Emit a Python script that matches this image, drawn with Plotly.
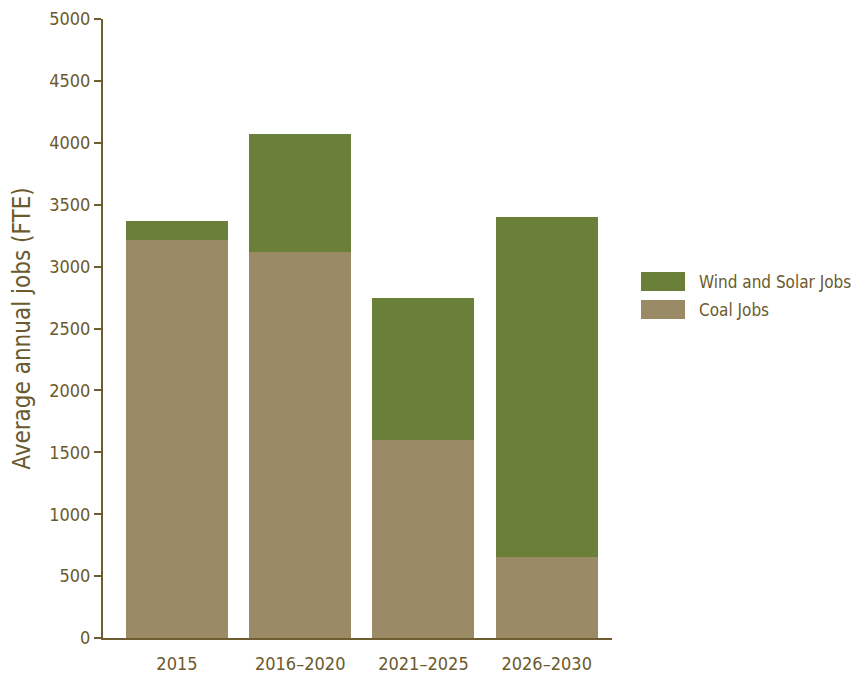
import plotly.graph_objects as go

periods = ["2015", "2016–2020", "2021–2025", "2026–2030"]
coal_jobs = [3215, 3120, 1600, 655]
wind_solar_jobs = [155, 950, 1145, 2745]

legend_labels = ["Wind and Solar Jobs", "Coal Jobs"]

text_color = "#6b5a2e"
axis_color = "#6e5d30"
coal_color = "#9b8a66"
green_color = "#6a7f37"
font_family = "Liberation Sans Narrow, DejaVu Sans Condensed, Arial Narrow, sans-serif"

fig = go.Figure()
fig.add_trace(go.Bar(x=periods, y=coal_jobs, name=legend_labels[1],
                     marker=dict(color=coal_color, line=dict(width=0)),
                     showlegend=False))
fig.add_trace(go.Bar(x=periods, y=wind_solar_jobs, name=legend_labels[0],
                     marker=dict(color=green_color, line=dict(width=0)),
                     showlegend=False))

# Legend block to the right of the plot: large swatches with labels
plot_l, plot_r, plot_t, plot_b = 103, 612, 19, 638
W, H = 854, 677


def px_x(x):
    return (x - plot_l) / (plot_r - plot_l)


def px_y(y):
    return (plot_b - y) / (plot_b - plot_t)


swatch_rows = [(272, 291, green_color), (300, 319, coal_color)]
for (y0, y1, col), label in zip(swatch_rows, legend_labels):
    fig.add_shape(type="rect", xref="paper", yref="paper",
                  x0=px_x(641), x1=px_x(685), y0=px_y(y1), y1=px_y(y0),
                  fillcolor=col, line=dict(width=0))
    fig.add_annotation(xref="paper", yref="paper", x=px_x(697), y=px_y((y0 + y1) / 2),
                       xanchor="left", yanchor="middle", text=label, showarrow=False,
                       font=dict(size=17, color=text_color))

fig.update_layout(
    width=W, height=H,
    barmode="stack",
    bargap=0.173,
    plot_bgcolor="white",
    paper_bgcolor="white",
    margin=dict(l=plot_l, r=W - plot_r, t=plot_t, b=H - plot_b, autoexpand=False),
    font=dict(family=font_family, color=text_color, size=18),
    showlegend=False,
)
fig.update_xaxes(
    range=[-0.6, 3.53],
    automargin=False,
    showline=True, linecolor=axis_color, linewidth=2,
    ticks="outside", ticklen=8, tickcolor="rgba(0,0,0,0)",
    showgrid=False,
    tickfont=dict(size=18, color=text_color),
)
fig.update_yaxes(
    range=[0, 5000],
    dtick=500,
    automargin=False,
    showline=True, linecolor=axis_color, linewidth=2,
    ticks="outside", ticklen=7, tickwidth=1.5, tickcolor=axis_color,
    showgrid=False, zeroline=False,
    tickfont=dict(size=18, color=text_color),
    title=dict(text="Average annual jobs (FTE)", font=dict(size=24, color=text_color), standoff=12),
)

fig.write_html("out.html")
